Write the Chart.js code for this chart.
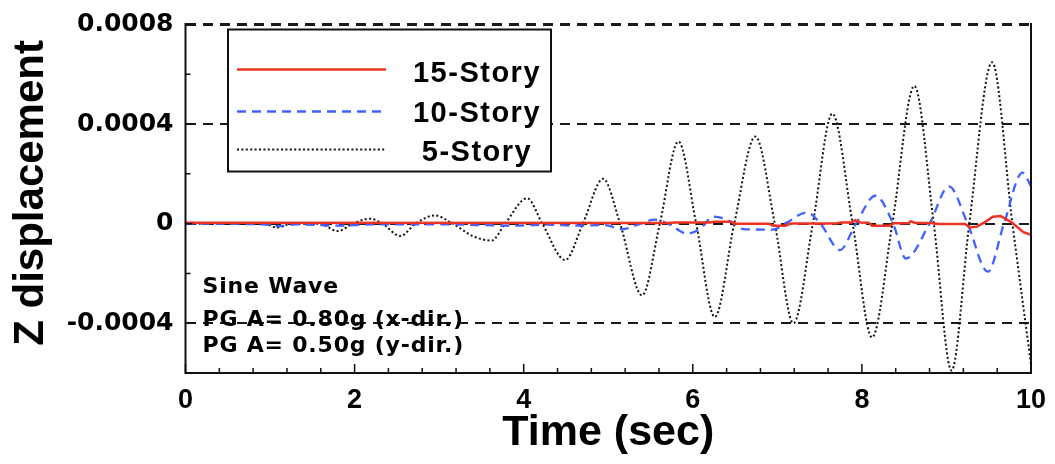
<!DOCTYPE html>
<html><head><meta charset="utf-8">
<script src="https://cdn.jsdelivr.net/npm/chart.js@4.4.1/dist/chart.umd.min.js"></script>
<style>html,body{margin:0;padding:0;background:#fff;}#wrap{width:1055px;height:464px;}</style>
</head><body><div id="wrap"><canvas id="c" width="1055" height="464"></canvas></div>
<script>
// ---- data ----
const xTickValues = [0, 2, 4, 6, 8, 10];
const xMinorTicks = [0.4,0.8,1.2,1.6,2.4,2.8,3.2,3.6,4.4,4.8,5.2,5.6,6.4,6.8,7.2,7.6,8.4,8.8,9.2,9.6];
const yTickValues = [-0.0004, 0, 0.0004, 0.0008];
const yTickLabels = ['-0.0004', '0', '0.0004', '0.0008'];
const yMinorTicks = [-0.0002, 0.0002, 0.0006];
const seriesNames = ['15-Story', '10-Story', '5-Story'];
const noteLines = ['Sine Wave', 'PG A= 0.80g (x-dir.)', 'PG A= 0.50g (y-dir.)'];
const xTitle = 'Time (sec)';
const yTitle = ' Z displacement';

const time15 = [0, 5.7, 5.8, 6.2, 6.25, 6.45, 6.5, 6.9, 6.95, 7.1, 7.15, 7.7, 7.75, 7.88, 7.92, 7.98, 8.08, 8.12, 8.33, 8.38, 8.55, 8.58, 8.63, 8.82, 8.9, 9.22, 9.28, 9.36, 9.45, 9.55, 9.64, 9.77, 9.91, 10];
const disp15 = [0.000004, 0.000003, 0.000005, 0.000005, 0.000008, 0.000008, 0, 0, -0.000008, -0.000008, 0.000001, 0.000001, 0.000005, 0.000005, 0.000014, 0.000005, 0.000004, -0.000008, -0.000008, 0.000002, 0.000002, 0.00001, 0.000003, 0.000003, -0.000001, -0.000001, -0.000015, -0.000012, 0.000005, 0.000028, 0.000031, 0.000005, -0.000034, -0.000045];

const time10 = [0, 0.9, 1.1, 1.3, 1.8, 2.2, 3.0, 3.9, 4.3, 4.6, 4.95, 5.17, 5.35, 5.55, 5.72, 5.93, 6.09, 6.24, 6.42, 6.6, 6.95, 7.11, 7.35, 7.51, 7.74, 7.93, 8.16, 8.37, 8.52, 8.80, 9.03, 9.25, 9.49, 9.68, 9.90, 10];
const disp10 = [0, -0.000003, -0.00001, -0.000003, -0.000008, -0.000003, -0.000003, -0.000008, -0.000004, -0.000008, -0.000006, -0.000022, -0.000004, 0.000016, -0.000002, -0.00004, -0.00002, 0.000028, 0.000014, -0.000022, -0.000024, 0.000004, 0.000045, 0, -0.000106, 0, 0.000112, 0, -0.00014, 0, 0.00015, 0, -0.000193, 0, 0.000205, 0.00015];

const time5 = [0, 0.94, 1.08, 1.26, 1.58, 1.80, 1.98, 2.18, 2.33, 2.54, 2.72, 2.95, 3.16, 3.40, 3.62, 3.78, 4.04, 4.22, 4.49, 4.70, 4.94, 5.14, 5.40, 5.61, 5.83, 6.04, 6.26, 6.49, 6.74, 6.97, 7.19, 7.42, 7.65, 7.89, 8.12, 8.36, 8.62, 8.85, 9.06, 9.27, 9.54, 9.78, 10];
const disp5 = [0, 0, -0.000016, 0, 0, -0.00003, 0, 0.00002, 0, -0.00005, 0, 0.000033, 0, -0.00005, -0.000068, 0, 0.000102, 0, -0.000146, 0, 0.00018, 0, -0.000288, 0, 0.00033, 0, -0.000375, 0, 0.00035, 0, -0.0004, 0, 0.000442, 0, -0.000457, 0, 0.000553, 0, -0.00059, 0, 0.000648, 0, -0.000565];

// ---- helpers ----
const toXY = (t, v) => t.map((ti, i) => ({x: ti, y: v[i]}));
const WIDE = "'DejaVu Sans', 'Liberation Sans', sans-serif";
const ARIAL = "'Liberation Sans', Arial, sans-serif";

const frameTicks = {
  id: 'frameTicks',
  afterDatasetsDraw(chart) {
    const {ctx, chartArea: a, scales: {x, y}} = chart;
    ctx.save();
    ctx.setLineDash([]);
    ctx.strokeStyle = '#111';
    ctx.lineWidth = 2;
    ctx.beginPath();
    ctx.moveTo(a.left, a.top - 1.5); ctx.lineTo(a.left, a.bottom);
    ctx.lineTo(a.right, a.bottom); ctx.lineTo(a.right, a.top - 1.5);
    ctx.stroke();
    ctx.lineWidth = 1.5;
    ctx.beginPath();
    xTickValues.forEach(v => { const p = x.getPixelForValue(v); ctx.moveTo(p, a.bottom); ctx.lineTo(p, a.bottom - 9); });
    xMinorTicks.forEach(v => { const p = x.getPixelForValue(v); ctx.moveTo(p, a.bottom); ctx.lineTo(p, a.bottom - 5); });
    yTickValues.forEach(v => { const p = y.getPixelForValue(v); ctx.moveTo(a.left, p); ctx.lineTo(a.left + 7, p); });
    yMinorTicks.forEach(v => { const p = y.getPixelForValue(v); ctx.moveTo(a.left, p); ctx.lineTo(a.left + 5, p); });
    ctx.stroke();
    // notes
    ctx.fillStyle = '#000';
    ctx.font = "bold 22px " + WIDE;
    ctx.textAlign = 'left';
    ctx.textBaseline = 'alphabetic';
    try { ctx.letterSpacing = '0.8px'; } catch (e) {}
    const noteBase = [293, 326, 352];
    noteLines.forEach((s, i) => ctx.fillText(s, a.left + 17, noteBase[i]));
    ctx.restore();
  }
};

const legendBox = {
  id: 'legendBox',
  afterDraw(chart) {
    const {ctx, chartArea: a} = chart;
    const L = a.left + 42.5, T = a.top + 5, W = 323, H = 142;
    ctx.save();
    ctx.fillStyle = '#fff';
    ctx.fillRect(L, T, W, H);
    ctx.setLineDash([]);
    ctx.strokeStyle = '#111';
    ctx.lineWidth = 2;
    ctx.strokeRect(L, T, W, H);
    const lineY = [40, 82, 120];
    const textY = [52, 92, 131];
    chart.data.datasets.forEach((ds, i) => {
      ctx.beginPath();
      ctx.setLineDash(ds.borderDash || []);
      ctx.strokeStyle = ds.borderColor;
      ctx.lineWidth = ds.borderWidth;
      ctx.moveTo(L + 9, T + lineY[i]);
      ctx.lineTo(L + 158, T + lineY[i]);
      ctx.stroke();
      ctx.setLineDash([]);
      ctx.fillStyle = '#000';
      ctx.font = "bold 29px " + ARIAL;
      try { ctx.letterSpacing = '1.5px'; } catch (e) {}
      ctx.textAlign = 'center';
      ctx.textBaseline = 'alphabetic';
      ctx.fillText(ds.label, L + 249, T + textY[i]);
    });
    ctx.restore();
  }
};

new Chart(document.getElementById('c').getContext('2d'), {
  type: 'line',
  data: {
    datasets: [
      {label: seriesNames[0], data: toXY(time15, disp15), borderColor: '#ee3322', borderWidth: 2.5, pointRadius: 0, tension: 0, fill: false},
      {label: seriesNames[1], data: toXY(time10, disp10), borderColor: '#4063ff', borderWidth: 2.3, borderDash: [9, 6], pointRadius: 0, cubicInterpolationMode: 'monotone', fill: false},
      {label: seriesNames[2], data: toXY(time5, disp5), borderColor: '#111111', borderWidth: 2, borderDash: [2, 2.4], pointRadius: 0, cubicInterpolationMode: 'monotone', fill: false}
    ]
  },
  options: {
    responsive: false,
    animation: false,
    devicePixelRatio: 1,
    layout: {padding: {top: 21, right: 24, left: 0, bottom: 0}},
    plugins: {legend: {display: false}, tooltip: {enabled: false}},
    scales: {
      x: {
        type: 'linear', min: 0, max: 10,
        afterBuildTicks: s => { s.ticks = xTickValues.map(v => ({value: v})); },
        afterFit: s => { s.height = 91; },
        grid: {display: false},
        border: {display: false},
        ticks: {color: '#000', padding: 6, maxRotation: 0, autoSkip: false,
          font: {family: ARIAL, size: 27, weight: 'bold', lineHeight: 1},
          callback: v => String(v)},
        title: {display: true, text: xTitle, color: '#000',
          font: {family: ARIAL, size: 43, weight: 'bold', lineHeight: 1},
          padding: {top: 0, bottom: 9}}
      },
      y: {
        min: -0.0006, max: 0.0008,
        afterBuildTicks: s => { s.ticks = yTickValues.map(v => ({value: v})); },
        afterFit: s => { s.width = 185.5; },
        grid: {display: true, drawTicks: false, color: '#1a1a1a',
          lineWidth: c => (c.tick && c.tick.value === 0.0008) ? 3 : 2},
        border: {display: false, dash: [10, 7]},
        ticks: {color: '#000', padding: 12, autoSkip: false,
          font: {family: WIDE, size: 25, weight: 'bold', lineHeight: 1},
          callback: (v, i) => yTickLabels[i]},
        title: {display: true, text: yTitle, color: '#000',
          font: {family: ARIAL, size: 42, weight: 'bold', lineHeight: 1},
          padding: {top: 10, bottom: 0}}
      }
    }
  },
  plugins: [frameTicks, legendBox]
});
</script>
</body></html>
